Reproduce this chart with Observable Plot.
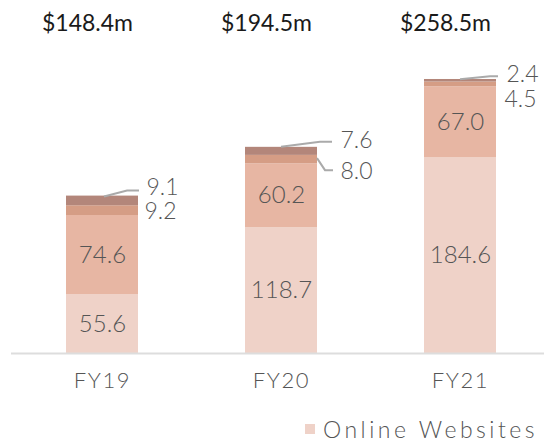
<!DOCTYPE html>
<html>
<head>
<meta charset="utf-8">
<script src="https://cdn.jsdelivr.net/npm/d3@7"></script>
<script src="https://cdn.jsdelivr.net/npm/@observablehq/plot@0.6"></script>
<style>
  html, body { margin: 0; padding: 0; background: #fff; }
  body { width: 544px; height: 443px; overflow: hidden; position: relative; font-family: "Lato", "Open Sans", sans-serif; }
  #chart svg { display: block; overflow: visible; }
  #chart svg text.val { letter-spacing: 0.6px; }
  #chart svg g[aria-label="x-axis tick label"] text { letter-spacing: 1.6px; }
  #legend { position: absolute; left: 305px; top: 417px; height: 24px; line-height: 24px; font-size: 23px; color: #555; font-weight: 300; display: flex; align-items: center; white-space: nowrap; letter-spacing: 3.5px; }
  #legend span.sw { display: inline-block; width: 10px; height: 10px; background: #efd2c8; margin-right: 8px; }
</style>
</head>
<body>
<div id="chart"></div>
<div id="legend"><span class="sw"></span>Online Websites</div>
<script>
const years = ["FY19", "FY20", "FY21"];
const totals = ["$148.4m", "$194.5m", "$258.5m"];
const seriesNames = ["Online Websites", "Series 2", "Series 3", "Series 4"];
const onlineWebsites = [55.6, 118.7, 184.6];
const series2 = [74.6, 60.2, 67.0];
const series3 = [9.2, 8.0, 4.5];
const series4 = [9.1, 7.6, 2.4];
const colors = ["#efd2c8", "#e7b6a3", "#d59d85", "#b3867a"];

const allSeries = [onlineWebsites, series2, series3, series4];
const rows = [];
years.forEach((yr, i) => {
  let base = 0;
  allSeries.forEach((vals, s) => {
    const v = vals[i];
    rows.push({year: yr, series: seriesNames[s], s, value: v, y1: base, y2: base + v, mid: base + v / 2});
    base += v;
  });
});
const topRows = years.map((yr, i) => ({year: yr, total: totals[i]}));

// outside label layout (pixel nudges), keyed by year and series index
const outside = {
  FY19: {3: {dx: 44, dy: -13, leader: [[2, -4], [25, -10], [37, -10]]}, 2: {dx: 42, dy: 1, leader: null}},
  FY20: {3: {dx: 59, dy: -11, leader: [[0, -4], [39, -9], [51, -9]]}, 2: {dx: 59, dy: 12, leader: [[36, -1], [44, 11], [52, 11]]}},
  FY21: {3: {dx: 46, dy: -6, leader: [[0, -1], [30, -4], [38, -4]]}, 2: {dx: 44, dy: 15, leader: null}}
};

const font = "Lato, 'Open Sans', sans-serif";
const marks = [
  Plot.rectY(rows, {x: "year", y1: "y1", y2: "y2", fill: d => colors[d.s]}),
  Plot.ruleY([0], {stroke: "#dddddd", strokeWidth: 2}),
  Plot.text(rows.filter(r => r.s < 2), {x: "year", y: "mid", text: d => d.value.toFixed(1), fill: "#555", fontSize: 24, fontWeight: 300, className: "val"}),
  Plot.text(topRows, {x: "year", frameAnchor: "top", dy: -21, dx: -15, text: "total", fill: "#1a1a1a", fontSize: 23, fontWeight: 400, className: "val"}),
  Plot.axisX({tickSize: 0, tickPadding: 19, fontSize: 22, fill: "#555", fontWeight: 300})
];
rows.filter(r => r.s >= 2).forEach(r => {
  const cfg = outside[r.year][r.s];
  marks.push(Plot.text([r], {x: "year", y: "mid", text: d => d.value.toFixed(1), dx: cfg.dx, dy: cfg.dy, textAnchor: "start", fill: "#555", fontSize: 23, fontWeight: 300, className: "val"}));
});

const plot = Plot.plot({
  width: 544,
  height: 405,
  marginTop: 35,
  marginBottom: 52,
  marginLeft: 11,
  marginRight: 0,
  style: {fontFamily: font, background: "#fff"},
  x: {domain: years, range: [11, 550], paddingInner: 0.6, paddingOuter: 0.3, label: null},
  y: {domain: [0, 300], axis: null},
  marks
});
document.getElementById("chart").appendChild(plot);

// leader lines positioned with the plot's own scales
const xs = plot.scale("x"), ys = plot.scale("y");
const bw = xs.bandwidth;
const svg = d3.select(plot);
rows.filter(r => r.s >= 2).forEach(r => {
  const cfg = outside[r.year][r.s];
  if (!cfg.leader) return;
  const cx = xs.apply(r.year) + bw / 2;
  const cy = ys.apply(r.mid);
  const pts = cfg.leader.map(([dx, dy]) => [cx + dx, cy + dy]);
  svg.append("path").attr("d", d3.line()(pts)).attr("fill", "none").attr("stroke", "#aaa").attr("stroke-width", 2);
});
</script>
</body>
</html>
